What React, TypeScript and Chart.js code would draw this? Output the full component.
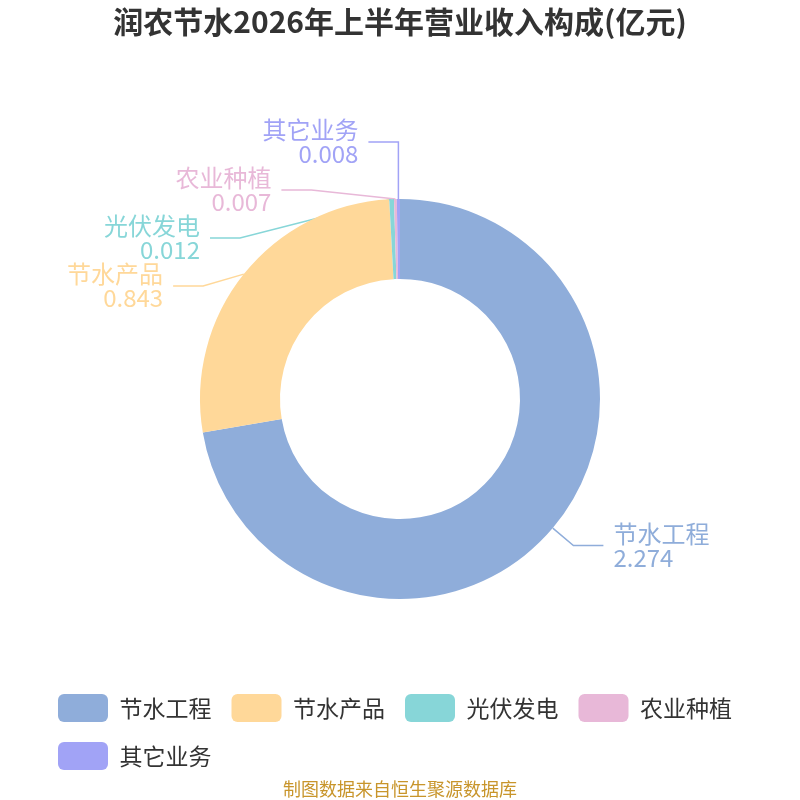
import { useEffect, useRef } from "react";
import { Chart, registerables } from "chart.js";

Chart.register(...registerables);

// revenue breakdown, H1 2026 (亿元)
const categories = ["节水工程", "节水产品", "光伏发电", "农业种植", "其它业务"];
const revenue = [2.274, 0.843, 0.012, 0.007, 0.008];
const colors = ["#8FADDA", "#FFD899", "#87D6D8", "#E8B8D8", "#A1A3F6"];

const FONT = "'Noto Sans CJK SC', 'Noto Sans', sans-serif";

// outside labels with leader lines, drawn by hand
const LINE1 = 27; // first segment, out from the ring
const LINE2 = 30; // horizontal segment
const GAP = 48; // min vertical distance between labels on one side
const LIFT = 30;

function layoutLabels(chart: any) {
  const meta = chart.getDatasetMeta(0);
  const items = meta.data.map((arc: any, i: number) => {
    const { x, y, startAngle, endAngle, outerRadius } = arc.getProps(
      ["x", "y", "startAngle", "endAngle", "outerRadius"],
      true
    );
    const mid = (startAngle + endAngle) / 2;
    const dx = Math.cos(mid);
    const dy = Math.sin(mid);
    const R = outerRadius + LINE1;
    return {
      i,
      cx: x,
      cy: y,
      R,
      right: dx >= 0,
      ax: x + outerRadius * dx,
      ay: y + outerRadius * dy,
      ex: x + R * dx,
      ny: y + R * dy,
      ly: y + R * dy,
      moved: false,
    };
  });

  [true, false].forEach((side) => {
    const list = items
      .filter((it: any) => it.right === side)
      .sort((a: any, b: any) => a.ny - b.ny);
    for (let k = 1; k < list.length; k++) {
      if (list[k].ly < list[k - 1].ly + GAP) {
        list[k].ly = list[k - 1].ly + GAP;
        list[k].moved = true;
        list[k - 1].moved = true;
      }
    }
    list.forEach((it: any) => {
      if (!it.moved) return;
      it.ly -= LIFT;
      const d = it.ly - it.cy;
      if (Math.abs(d) < it.R) {
        const w = Math.sqrt(it.R * it.R - d * d);
        it.ex = it.right ? it.cx + w : it.cx - w;
        if (it.right ? it.ex < it.ax : it.ex > it.ax) it.ex = it.ax;
      } else {
        it.ex = it.ax;
      }
    });
  });
  return items;
}

const outsideLabels = {
  id: "outsideLabels",
  beforeDatasetsDraw(chart: any) {
    const items = layoutLabels(chart);
    const ctx = chart.ctx;
    ctx.save();
    ctx.lineWidth = 1.5;
    items.forEach((it: any) => {
      const endX = it.right ? it.ex + LINE2 : it.ex - LINE2;
      ctx.strokeStyle = colors[it.i];
      ctx.beginPath();
      ctx.moveTo(it.ax, it.ay);
      ctx.lineTo(it.ex, it.ly);
      ctx.lineTo(endX, it.ly);
      ctx.stroke();
    });
    ctx.restore();
  },
  afterDatasetsDraw(chart: any) {
    const items = layoutLabels(chart);
    const ctx = chart.ctx;
    ctx.save();
    ctx.font = `24px ${FONT}`;
    ctx.textBaseline = "middle";
    items.forEach((it: any) => {
      const tx = it.right ? it.ex + LINE2 + 10 : it.ex - LINE2 - 10;
      ctx.textAlign = it.right ? "left" : "right";
      ctx.fillStyle = colors[it.i];
      ctx.fillText(categories[it.i], tx, it.ly - 12);
      ctx.fillText(revenue[it.i].toFixed(3), tx, it.ly + 12);
    });
    ctx.restore();
  },
};

const sourceNote = {
  id: "sourceNote",
  afterDraw(chart: any) {
    const ctx = chart.ctx;
    ctx.save();
    ctx.font = `18px ${FONT}`;
    ctx.fillStyle = "#C8952B";
    ctx.textAlign = "center";
    ctx.textBaseline = "middle";
    ctx.fillText("制图数据来自恒生聚源数据库", chart.width / 2, 789);
    ctx.restore();
  },
};

export default function App() {
  const canvasRef = useRef<HTMLCanvasElement | null>(null);
  const chartRef = useRef<Chart | null>(null);

  useEffect(() => {
    if (!canvasRef.current) return;
    if (chartRef.current) chartRef.current.destroy();

    chartRef.current = new Chart(canvasRef.current, {
      type: "doughnut",
      data: {
        labels: categories,
        datasets: [
          {
            data: revenue,
            backgroundColor: colors,
            borderWidth: 0,
          },
        ],
      },
      options: {
        animation: false,
        responsive: true,
        maintainAspectRatio: false,
        radius: 200,
        cutout: "60%",
        layout: { padding: { left: 38, right: 38, top: 0, bottom: 20 } },
        plugins: {
          title: {
            display: true,
            text: "润农节水2026年上半年营业收入构成(亿元)",
            color: "#333",
            font: { size: 30, weight: "bold", family: FONT },
            padding: { top: 4, bottom: 84 },
          },
          legend: {
            position: "bottom",
            align: "start",
            labels: {
              boxWidth: 50,
              boxHeight: 28,
              useBorderRadius: true,
              borderRadius: 6,
              padding: 20,
              color: "#333",
              font: { size: 23, family: FONT },
            },
          },
          tooltip: { enabled: false },
        },
      } as any,
      plugins: [outsideLabels, sourceNote],
    });

    return () => {
      if (chartRef.current) {
        chartRef.current.destroy();
        chartRef.current = null;
      }
    };
  }, []);

  return (
    <div
      style={{
        position: "fixed",
        left: 0,
        top: 0,
        width: 800,
        height: 800,
        background: "#fff",
      }}
    >
      <canvas ref={canvasRef} />
    </div>
  );
}
